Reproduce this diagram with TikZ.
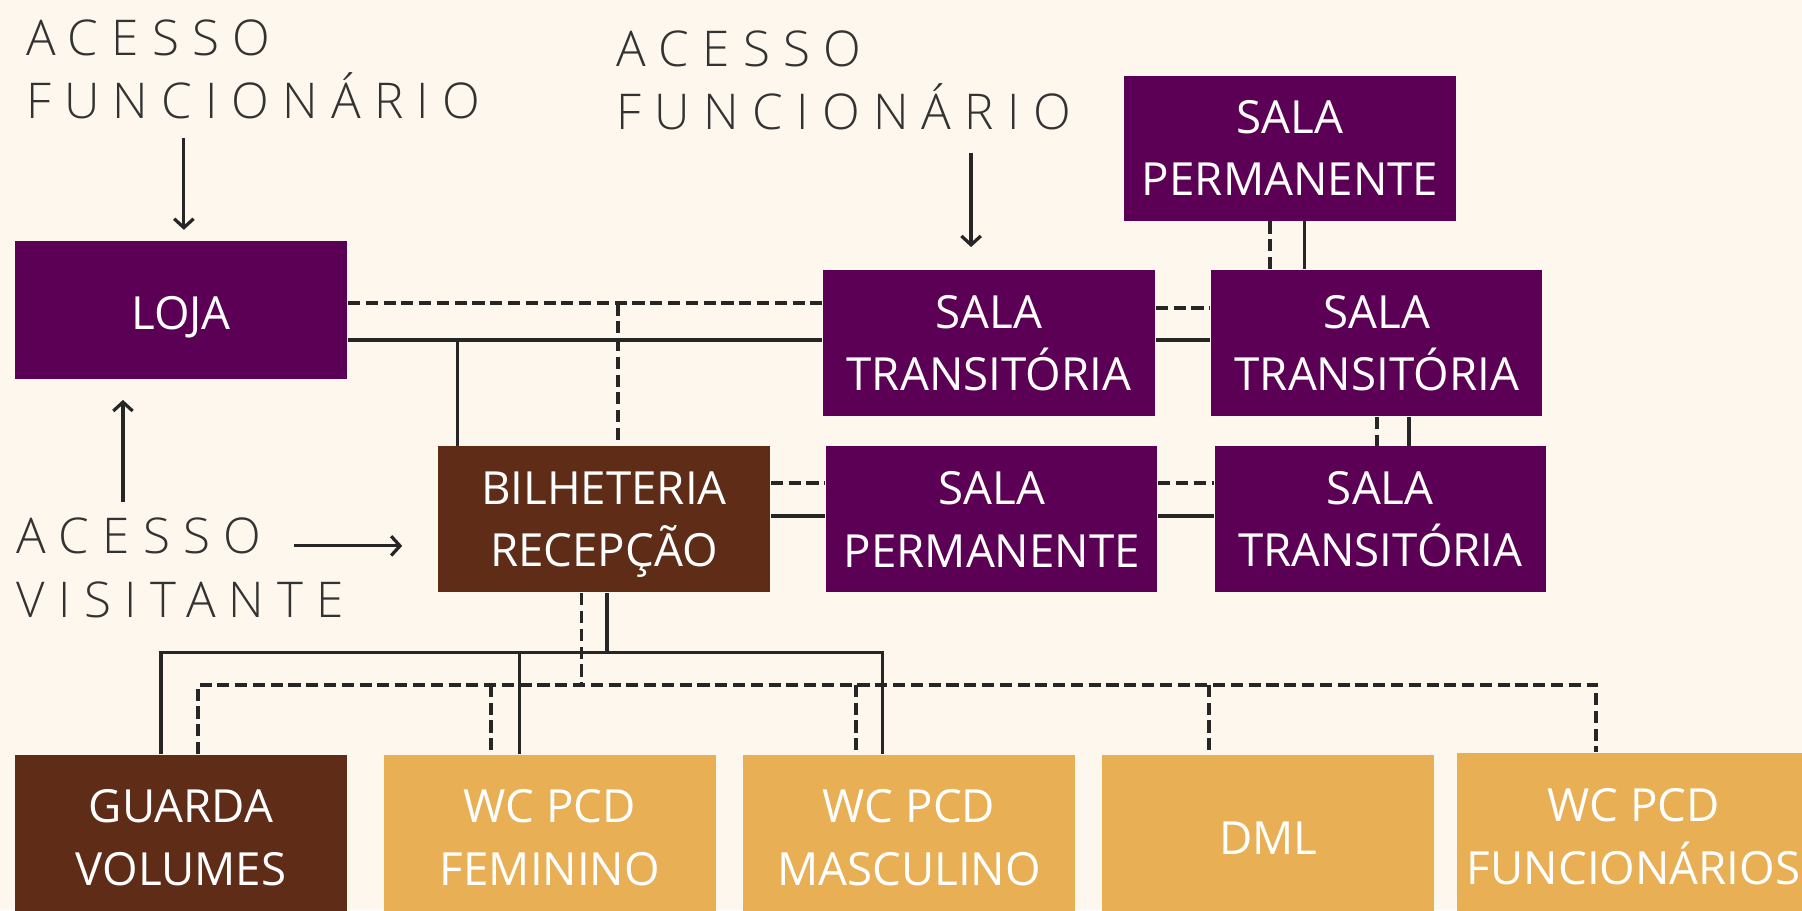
\documentclass[tikz,border=0pt]{standalone}
\usepackage{fontspec}
\setmainfont{Open Sans}
\newfontfamily\lightfont{Open Sans Light}
\usetikzlibrary{arrows.meta}
\definecolor{bgc}{HTML}{FDF7ED}
\definecolor{purp}{HTML}{5C0055}
\definecolor{brn}{HTML}{5E2C17}
\definecolor{orng}{HTML}{E9AF54}
\definecolor{ink}{HTML}{262626}
\definecolor{lblc}{HTML}{333333}
\newcommand\boxfont{\fontsize{11.3}{15.4}\selectfont}
\newcommand\lblfont{\lightfont\fontsize{12.2}{15.6}\selectfont\addfontfeature{LetterSpace=27}}
\begin{document}
\begin{tikzpicture}[x=0.01cm,y=-0.01cm,
  room/.style={rectangle, inner sep=0pt, text=white, font=\boxfont, align=center,
    minimum width=2.89cm, minimum height=1.27cm},
  lowtext/.style={execute at begin node={\rule{0pt}{11.4pt}}},
  purplebox/.style={room, fill=purp, lowtext},
  brownbox/.style={room, fill=brn},
  orangebox/.style={room, fill=orng},
  sld/.style={draw=ink, line width=0.85pt},
  dsh/.style={draw=ink, line width=0.95pt, dash pattern=on 3pt off 1.4pt},
  arr/.style={draw=ink, line width=0.8pt, -{Straight Barb[length=2.2pt,width=4.8pt]}},
  lbl/.style={text=lblc, font=\lblfont, inner sep=0pt, anchor=base west}]
\useasboundingbox (0,0) rectangle (1568,792);
\fill[bgc] (0,0) rectangle (1568,792);
\clip (0,0) rectangle (1568,792);

% rooms
\node[purplebox, minimum height=1.20cm] (loja) at (157.5,270) {LOJA};
\node[purplebox, minimum height=1.26cm] (sp1) at (1122.5,129) {SALA\\PERMANENTE};
\node[purplebox] (st1) at (860.5,298.5) {SALA\\TRANSITÓRIA};
\node[purplebox, minimum width=2.88cm] (st2) at (1198,298.5) {SALA\\TRANSITÓRIA};
\node[brownbox, lowtext, text depth=0pt] (bil) at (525.5,452) {BILHETERIA\\RECEPÇÃO};
\node[purplebox, minimum width=2.88cm] (sp2) at (863,452) {SALA\\PERMANENTE};
\node[purplebox, minimum width=2.88cm] (st3) at (1201,452) {SALA\\TRANSITÓRIA};
\node[brownbox, minimum height=1.44cm] (gv) at (157.5,729) {GUARDA\\VOLUMES};
\node[orangebox, minimum height=1.44cm] (wcf) at (478.5,729) {WC PCD\\FEMININO};
\node[orangebox, minimum width=2.88cm, minimum height=1.44cm] (wcm) at (791,729) {WC PCD\\MASCULINO};
\node[orangebox, minimum height=1.44cm] (dml) at (1103.5,729) {DML};
\node[orangebox, minimum width=3.07cm, minimum height=1.46cm] (wcfu) at (1421.5,728) {WC PCD\\FUNCIONÁRIOS};

% labels
\node[lbl] (fa1) at (22,48) {ACESSO};
\node[lbl] (fb1) at (22,103) {FUNCIONÁRIO};
\node[lbl] (fa2) at (536,58) {ACESSO};
\node[lbl] (fb2) at (536,113) {FUNCIONÁRIO};
\node[lbl] (va) at (14,482) {ACESSO};
\node[lbl] (vb) at (14,537) {VISITANTE};

% access arrows
\coordinate (a1s) at (160,120); \coordinate (a1e) at (160,200);
\coordinate (a2s) at (845,133); \coordinate (a2e) at (845,215);
\coordinate (a3s) at (107,437); \coordinate (a3e) at (107,348);
\coordinate (a4s) at (256,475); \coordinate (a4e) at (350,475);
\draw[arr] (a1s) -- (a1e);
\draw[arr] (a2s) -- (a2e);
\draw[arr] (a3s) -- (a3e);
\draw[arr] (a4s) -- (a4e);

% rail coordinates
\coordinate (y264) at (0,264);
\coordinate (y268) at (0,268);
\coordinate (y296) at (0,296);
\coordinate (y420) at (0,420);
\coordinate (y449) at (0,449);
\coordinate (y568) at (0,568);
\coordinate (y596) at (0,596);
\coordinate (x398) at (398,0);
\coordinate (x538) at (538,0);
\coordinate (x1105) at (1105,0);
\coordinate (x1135) at (1135,0);
\coordinate (x1198) at (1198,0);
\coordinate (x1226) at (1226,0);
\coordinate (x506) at (506,0);
\coordinate (x528) at (528,0);
\coordinate (x140) at (140,0);
\coordinate (x452) at (452,0);
\coordinate (x768) at (768,0);
\coordinate (x172) at (172,0);
\coordinate (x427) at (427,0);
\coordinate (x745) at (745,0);
\coordinate (x1052) at (1052,0);
\coordinate (x1389) at (1389,0);

% LOJA - sala transitoria - bilheteria
\draw[dsh] (loja.east |- y264) -- (st1.west |- y264);
\draw[sld] (loja.east |- y296) -- (st1.west |- y296);
\draw[sld] (x398 |- y296) -- (x398 |- bil.north);
\draw[dsh] (x538 |- y264) -- (x538 |- bil.north);

% upper rooms
\draw[dsh] (st1.east |- y268) -- (st2.west |- y268);
\draw[sld] (st1.east |- y296) -- (st2.west |- y296);
\draw[dsh] (x1105 |- sp1.south) -- (x1105 |- st2.north);
\draw[sld] (x1135 |- sp1.south) -- (x1135 |- st2.north);
\draw[dsh] (x1198 |- st2.south) -- (x1198 |- st3.north);
\draw[sld] (x1226 |- st2.south) -- (x1226 |- st3.north);

% middle row
\draw[dsh] (bil.east |- y420) -- (sp2.west |- y420);
\draw[sld] (bil.east |- y449) -- (sp2.west |- y449);
\draw[dsh] (sp2.east |- y420) -- (st3.west |- y420);
\draw[sld] (sp2.east |- y449) -- (st3.west |- y449);

% bilheteria to lower rooms
\draw[sld] (x528 |- bil.south) -- (x528 |- y568);
\draw[dsh] (x506 |- bil.south) -- (x506 |- y596);
\draw[sld] (x140 |- gv.north) -- (x140 |- y568) -- (x768 |- y568) -- (x768 |- wcm.north);
\draw[sld] (x452 |- y568) -- (x452 |- wcf.north);
\draw[dsh] (x172 |- gv.north) -- (x172 |- y596) -- (x1389 |- y596) -- (x1389 |- wcfu.north);
\draw[dsh] (x427 |- y596) -- (x427 |- wcf.north);
\draw[dsh] (x745 |- y596) -- (x745 |- wcm.north);
\draw[dsh] (x1052 |- y596) -- (x1052 |- dml.north);
\end{tikzpicture}
\end{document}
